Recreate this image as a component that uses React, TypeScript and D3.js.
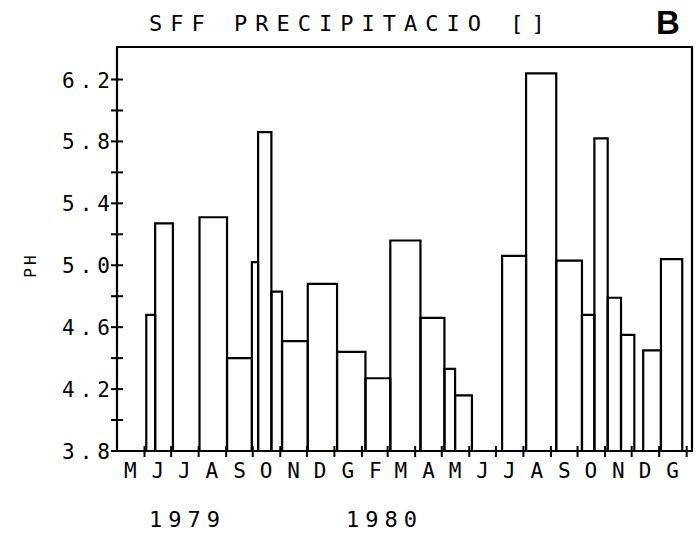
import React from "react";
import * as d3 from "d3";

// Sampling periods (start, end) and mean pH of precipitation
const periodStarts = [
  "1979-06-03", "1979-06-13", "1979-08-02", "1979-09-02", "1979-09-30", "1979-10-07",
  "1979-10-22", "1979-11-03", "1979-12-02", "1980-01-04", "1980-02-05", "1980-03-04",
  "1980-04-07", "1980-05-04", "1980-05-16", "1980-07-08", "1980-08-04", "1980-09-07",
  "1980-10-06", "1980-10-20", "1980-11-04", "1980-11-19", "1980-12-14", "1981-01-03",
];
const periodEnds = [
  "1979-06-13", "1979-07-03", "1979-09-02", "1979-09-30", "1979-10-07", "1979-10-22",
  "1979-11-03", "1979-12-02", "1980-01-04", "1980-02-05", "1980-03-04", "1980-04-07",
  "1980-05-04", "1980-05-16", "1980-06-04", "1980-08-04", "1980-09-07", "1980-10-06",
  "1980-10-20", "1980-11-04", "1980-11-19", "1980-12-04", "1981-01-03", "1981-01-27",
];
const phValues = [
  4.68, 5.27, 5.31, 4.40, 5.02, 5.86,
  4.83, 4.51, 4.88, 4.44, 4.27, 5.16,
  4.66, 4.33, 4.16, 5.06, 6.24, 5.03,
  4.68, 5.82, 4.79, 4.55, 4.45, 5.04,
];
const monthLetters = ["M", "J", "J", "A", "S", "O", "N", "D", "G", "F", "M", "A", "M", "J", "J", "A", "S", "O", "N", "D", "G"];
const yearLabels = ["1979", "1980"];
const yearAnchors = ["1979-07-16", "1980-02-23"];
const yTickValues = [3.8, 4.0, 4.2, 4.4, 4.6, 4.8, 5.0, 5.2, 5.4, 5.6, 5.8, 6.0, 6.2];
const yLabelValues = [3.8, 4.2, 4.6, 5.0, 5.4, 5.8, 6.2];
const title = "SFF PRECIPITACIO []";
const panelLetter = "B";
const yTitle = "PH";

const W = 697;
const H = 537;
const parse = d3.timeParse("%Y-%m-%d");

export default function App() {
  const left = 117;
  const right = 692;
  const top = 47;
  const bottom = 451;

  const x = d3
    .scaleTime()
    .domain([new Date(1979, 4, 1), new Date(1981, 1, 7)])
    .range([left, right]);
  const y = d3.scaleLinear().domain([3.8, 6.41]).range([bottom, top]);

  const monthStarts = d3.timeMonth.range(new Date(1979, 4, 1), new Date(1981, 1, 2));
  const mono = "'DejaVu Sans Mono', monospace";

  const bars = phValues.map((v, i) => ({
    x0: x(parse(periodStarts[i])!),
    x1: x(parse(periodEnds[i])!),
    v,
  }));

  const ls = 5;

  return (
    <svg width={W} height={H} style={{ display: "block", position: "absolute", left: 0, top: 0, background: "#fff" }}>
      <rect x={0} y={0} width={W} height={H} fill="#fff" />
      {/* bars */}
      {bars.map((b, i) => (
        <path
          key={i}
          d={`M${b.x0},${bottom}V${y(b.v)}H${b.x1}V${bottom}`}
          fill="none"
          stroke="#000"
          strokeWidth={2.2}
        />
      ))}
      {/* frame */}
      <path
        d={`M${left},${bottom}V${top}H${right}V${bottom}H${left}`}
        fill="none"
        stroke="#000"
        strokeWidth={2.2}
      />
      {/* y ticks */}
      {yTickValues.map((t, i) => (
        <line key={i} x1={left - 6} x2={left + 6} y1={y(t)} y2={y(t)} stroke="#000" strokeWidth={2} />
      ))}
      {yLabelValues.map((t, i) => (
        <text
          key={i}
          x={110 + ls}
          y={y(t) + 8}
          textAnchor="end"
          fontFamily={mono}
          fontSize={21}
          letterSpacing={ls}
          fill="#000"
        >
          {t.toFixed(1)}
        </text>
      ))}
      {/* x ticks */}
      {monthStarts.slice(1).map((d, i) => (
        <line key={i} x1={x(d)} x2={x(d)} y1={bottom - 5} y2={bottom + 6} stroke="#000" strokeWidth={2} />
      ))}
      {monthLetters.map((m, i) => {
        const c = x(d3.timeDay.offset(monthStarts[i], 15));
        return (
          <text key={i} x={c} y={478} textAnchor="middle" fontFamily={mono} fontSize={21} fill="#000">
            {m}
          </text>
        );
      })}
      {yearLabels.map((yl, i) => (
        <text
          key={i}
          x={x(parse(yearAnchors[i])!) + 3}
          y={527}
          textAnchor="middle"
          fontFamily={mono}
          fontSize={22}
          letterSpacing={6}
          fill="#000"
        >
          {yl}
        </text>
      ))}
      {/* title */}
      <text x={149} y={31} fontFamily={mono} fontSize={22} letterSpacing={8} fill="#000">
        {title}
      </text>
      <text x={668} y={34} textAnchor="middle" fontFamily="'Liberation Sans', Arial, sans-serif" fontWeight="bold" fontSize={33} fill="#000">
        {panelLetter}
      </text>
      <text
        transform={`translate(36,${(top + bottom) / 2 + 16}) rotate(-90)`}
        textAnchor="middle"
        fontFamily={mono}
        fontSize={16}
        letterSpacing={3}
        fill="#000"
      >
        {yTitle}
      </text>
    </svg>
  );
}
